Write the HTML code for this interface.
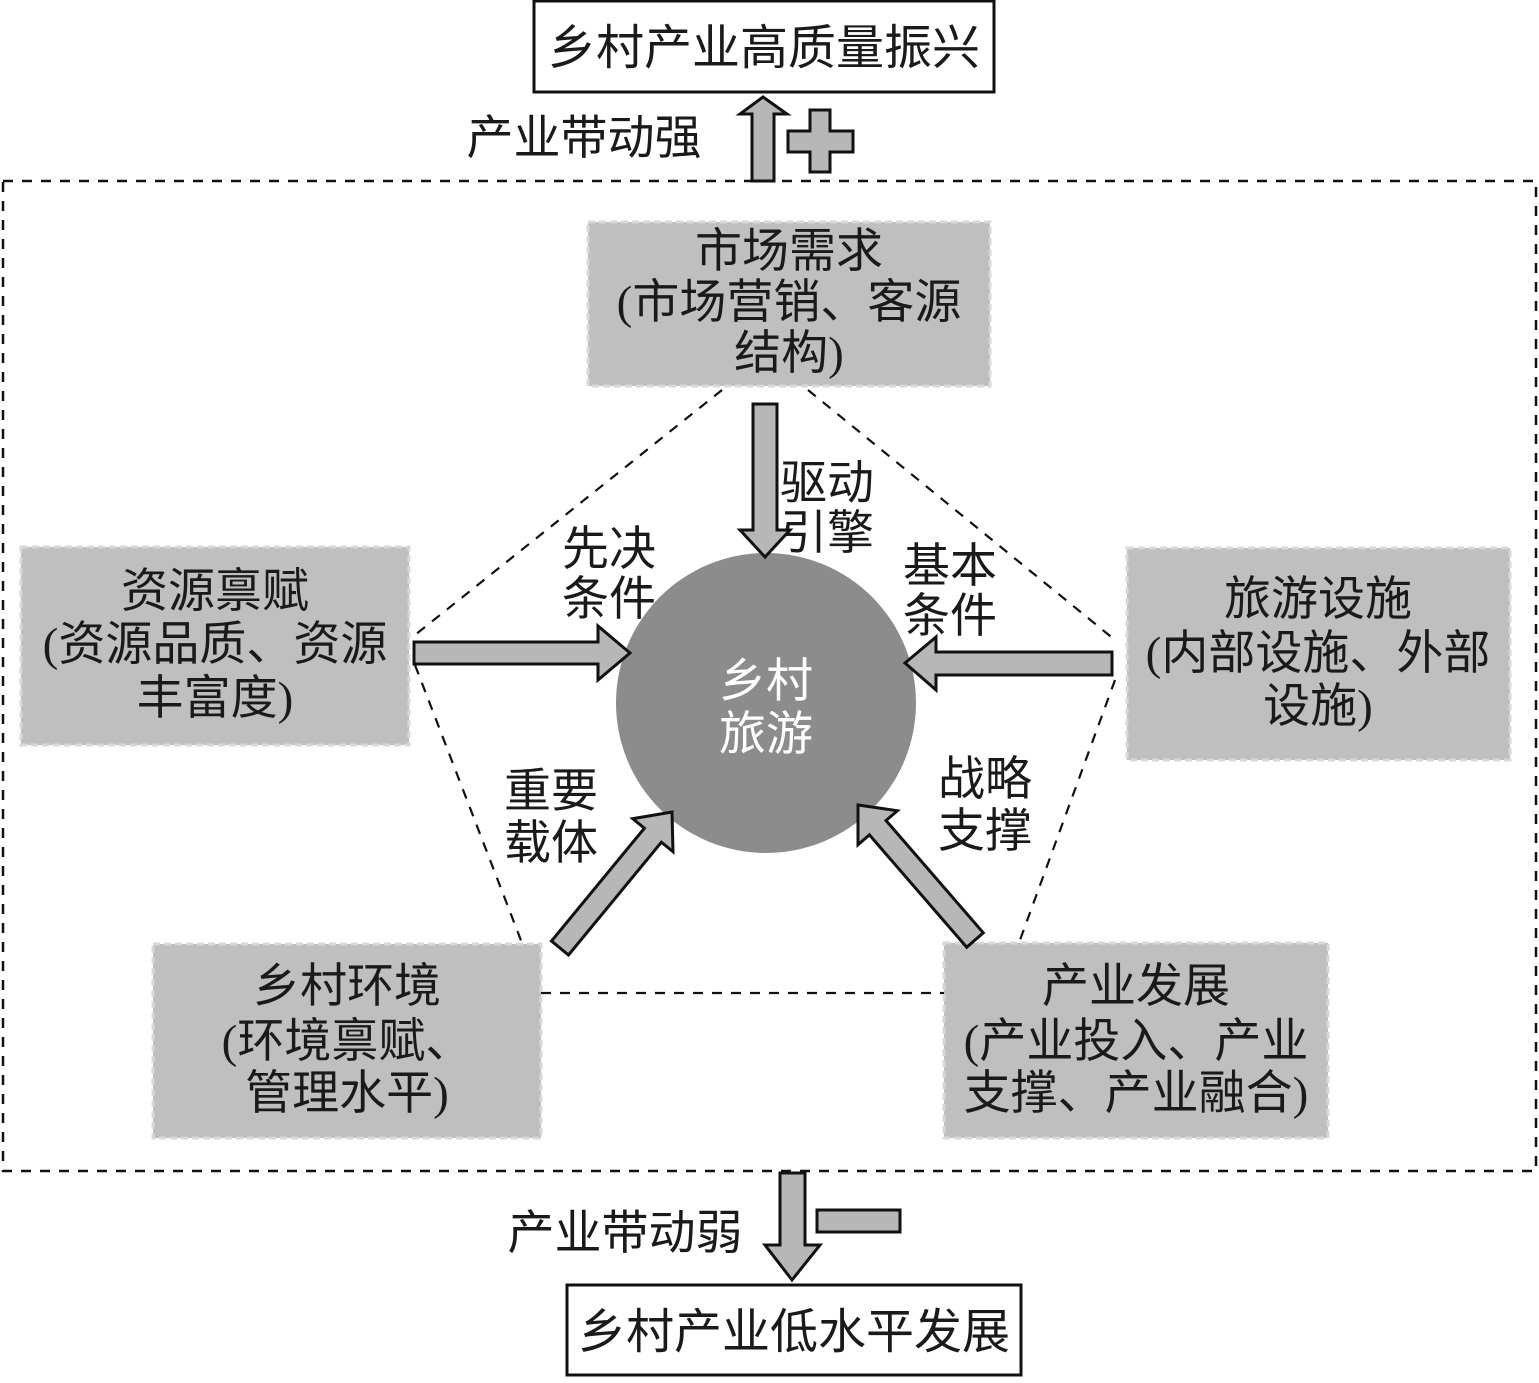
<!DOCTYPE html>
<html><head><meta charset="utf-8"><style>
html,body{margin:0;padding:0;background:#fff;}
svg text{font-family:"Liberation Serif","Noto Sans CJK SC",serif;font-size:47px;fill:#1a1a1a;text-anchor:middle;}
</style></head><body>
<svg width="1539" height="1378" viewBox="0 0 1539 1378" xmlns="http://www.w3.org/2000/svg">
<g stroke="#111" stroke-width="3">
<rect x="534" y="1" width="460" height="91" fill="#fff"/>
<rect x="567" y="1285" width="454" height="90" fill="#fff"/>
</g>
<text x="764" y="64" style="font-size:48px">乡村产业高质量振兴</text>
<text x="794" y="1348" style="font-size:48px">乡村产业低水平发展</text>
<text x="584" y="154">产业带动强</text>
<text x="625" y="1249">产业带动弱</text>
<rect x="3" y="181" width="1533" height="990" fill="none" stroke="#111" stroke-width="2.5" stroke-dasharray="10,9"/>
<g stroke="#111" stroke-width="2.2" stroke-dasharray="10,9" fill="none">
<line x1="722" y1="390" x2="415" y2="635"/>
<line x1="808" y1="390" x2="1115" y2="640"/>
<line x1="415" y1="665" x2="522" y2="943"/>
<line x1="1115" y1="680" x2="1020" y2="940"/>
<line x1="541" y1="993" x2="944" y2="993"/>
</g>
<g fill="#bfbfbf" stroke="#d8d8d8" stroke-width="3" stroke-dasharray="7,4">
<rect x="588" y="222" width="402" height="164"/>
<rect x="21" y="547" width="388" height="198"/>
<rect x="1127" y="548" width="383" height="212"/>
<rect x="153" y="944" width="388" height="194"/>
<rect x="944" y="943" width="384" height="195"/>
</g>
<text x="789" y="267">市场需求</text>
<text x="789" y="318">(市场营销、客源</text>
<text x="789" y="369">结构)</text>
<text x="215" y="607">资源禀赋</text>
<text x="215" y="660">(资源品质、资源</text>
<text x="215" y="714">丰富度)</text>
<text x="1318" y="615">旅游设施</text>
<text x="1318" y="669">(内部设施、外部</text>
<text x="1318" y="722">设施)</text>
<text x="347" y="1002">乡村环境</text>
<text x="347" y="1057">(环境禀赋、</text>
<text x="347" y="1109">管理水平)</text>
<text x="1136" y="1002">产业发展</text>
<text x="1136" y="1057">(产业投入、产业</text>
<text x="1136" y="1109">支撑、产业融合)</text>
<circle cx="766" cy="703" r="150" fill="#8c8c8c"/>
<text x="766" y="697" style="fill:#fff">乡村</text>
<text x="766" y="750" style="fill:#fff">旅游</text>
<text x="827" y="499">驱动</text>
<text x="827" y="549">引擎</text>
<text x="609" y="565">先决</text>
<text x="609" y="615">条件</text>
<text x="950" y="582">基本</text>
<text x="950" y="632">条件</text>
<text x="551" y="807">重要</text>
<text x="551" y="859">载体</text>
<text x="985" y="795">战略</text>
<text x="985" y="847">支撑</text>
<g fill="#b7b7b7" stroke="#111" stroke-width="3" stroke-linejoin="miter">
<polygon points="752,181 752,114 740,114 763,97 787,114 774,114 774,181"/>
<polygon points="810,110 830,110 830,131 853,131 853,152 830,152 830,172 810,172 810,152 788,152 788,131 810,131"/>
<polygon points="753,404 777,404 777,530 790,530 765,557 740,530 753,530"/>
<polygon points="414,642 598,642 598,626 630,653 598,680 598,664 414,664"/>
<polygon points="1112,652 936,652 936,637 905,663 936,690 936,675 1112,675"/>
<polygon points="568.5,955 661.4,842.2 673,851.7 672,812 632.8,818.7 644.4,828.2 551.5,941"/>
<polygon points="983.3,932.8 886,820.5 897.4,810.7 858,805 858,844.7 869.4,834.9 966.7,947.2"/>
<polygon points="780,1173 805,1173 805,1245 820,1245 792,1280 765,1245 780,1245"/>
<rect x="817" y="1210" width="83" height="22"/>
</g>
</svg>
</body></html>
